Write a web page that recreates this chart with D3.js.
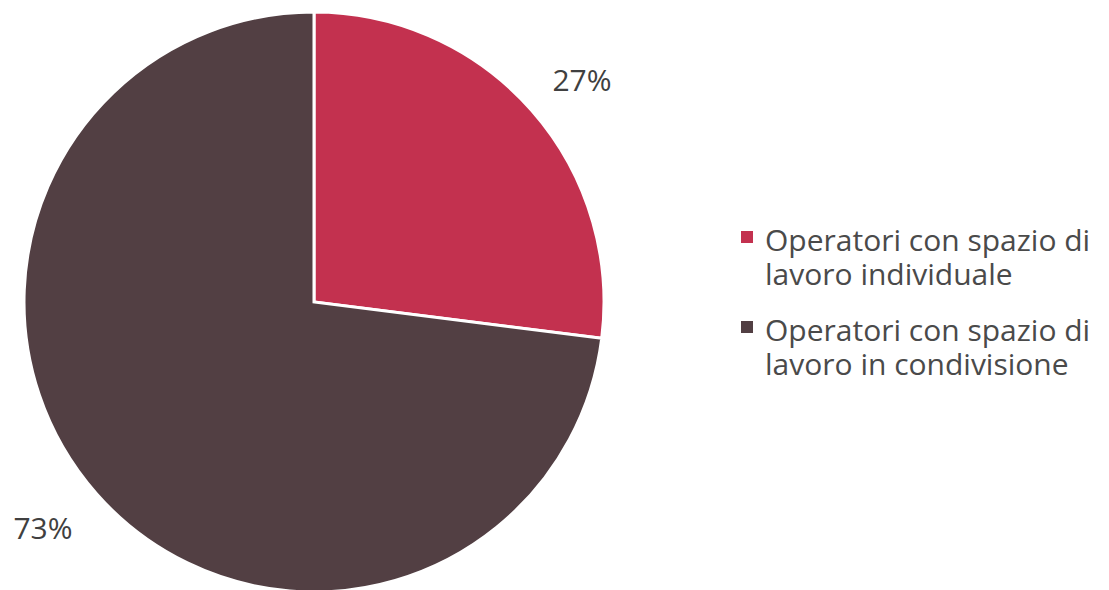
<!DOCTYPE html>
<html><head><meta charset="utf-8">
<script src="https://cdn.jsdelivr.net/npm/d3@7"></script>
<style>body{margin:0;background:#fff;} text{font-family:"Open Sans","Noto Sans",sans-serif;}</style>
</head><body>
<svg id="c" width="1109" height="590"></svg>
<script>
const categories = ["Operatori con spazio di lavoro individuale", "Operatori con spazio di lavoro in condivisione"];
const legendLines = [["Operatori con spazio di", "lavoro individuale"], ["Operatori con spazio di", "lavoro in condivisione"]];
const values = [27, 73];
const labels = ["27%", "73%"];
const colors = ["#C3314F", "#523F43"];

const svg = d3.select("#c");
const cx = 314, cy = 302, r = 290;
const pie = d3.pie().sort(null).value(d => d)(values);
const arc = d3.arc().innerRadius(0).outerRadius(r);
const g = svg.append("g").attr("transform", `translate(${cx},${cy})`);
g.selectAll("path").data(pie).enter().append("path")
  .attr("d", arc).attr("fill", (d, i) => colors[i])
  .attr("stroke", "#fff").attr("stroke-width", 3).attr("stroke-linejoin", "miter");

const labelPos = [[582, 91], [43, 539]];
svg.selectAll("text.lbl").data(labels).enter().append("text")
  .attr("class", "lbl").attr("x", (d, i) => labelPos[i][0]).attr("y", (d, i) => labelPos[i][1])
  .attr("text-anchor", "middle").attr("font-size", 30).attr("fill", "#404040").text(d => d);

const lg = svg.append("g");
const ly = [251, 341];
legendLines.forEach((lines, i) => {
  lg.append("rect").attr("x", 741).attr("y", ly[i] - 20).attr("width", 12).attr("height", 12).attr("fill", colors[i]);
  const t = lg.append("text").attr("x", 765).attr("y", ly[i]).attr("font-size", 30).attr("fill", "#4a4a4a");
  lines.forEach((s, j) => {
    t.append("tspan").attr("x", 765).attr("dy", j === 0 ? 0 : 34).text(s);
  });
});
</script>
</body></html>
